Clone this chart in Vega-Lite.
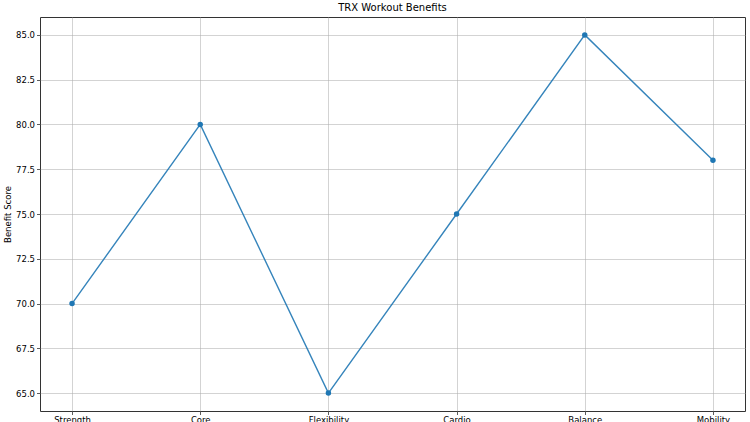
{
  "$schema": "https://vega.github.io/schema/vega-lite/v6.json",
  "autosize": "none",
  "width": 705,
  "height": 394,
  "padding": {"left": 40, "top": 17, "right": 5, "bottom": 11},
  "background": "white",
  "title": {"text": "TRX Workout Benefits", "font": "DejaVu Sans", "fontSize": 10, "fontWeight": "normal", "color": "#000000", "offset": 4},
  "data": {"values": [
    {"category": "Strength", "score": 70},
    {"category": "Core", "score": 80},
    {"category": "Flexibility", "score": 65},
    {"category": "Cardio", "score": 75},
    {"category": "Balance", "score": 85},
    {"category": "Mobility", "score": 78}
  ]},
  "config": {
    "view": {"stroke": "#333333", "strokeWidth": 1},
    "axis": {
      "labelFont": "DejaVu Sans", "labelFontSize": 8.5, "labelColor": "#000000",
      "titleFont": "DejaVu Sans", "titleFontSize": 8.5, "titleFontWeight": "normal", "titleColor": "#000000",
      "grid": true, "gridColor": "#b0b0b0", "gridOpacity": 0.7, "gridWidth": 0.8,
      "domain": false, "tickColor": "#333333", "tickSize": 3.5, "tickWidth": 0.8, "labelPadding": 2
    }
  },
  "encoding": {
    "x": {"field": "category", "type": "ordinal", "sort": null,
          "scale": {"type": "point", "padding": 0.25},
          "axis": {"title": null, "labelAngle": 0, "labelPadding": 1}},
    "y": {"field": "score", "type": "quantitative",
          "scale": {"domain": [64, 86], "nice": false, "zero": false},
          "axis": {"title": "Benefit Score", "values": [65, 67.5, 70, 72.5, 75, 77.5, 80, 82.5, 85], "format": ".1f", "titlePadding": 3}}
  },
  "layer": [
    {"mark": {"type": "line", "color": "#1f77b4", "strokeWidth": 1.4, "opacity": 0.9}},
    {"mark": {"type": "point", "filled": true, "color": "#1f77b4", "size": 30, "opacity": 1}}
  ]
}
